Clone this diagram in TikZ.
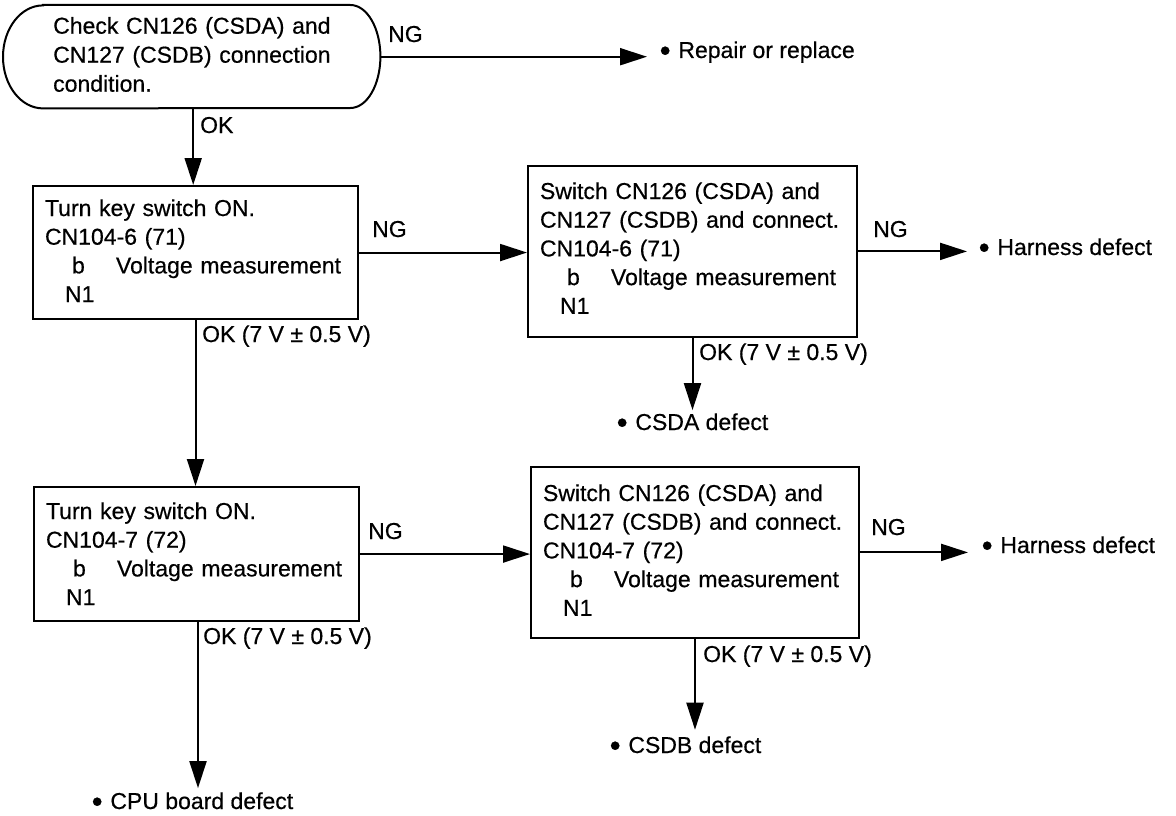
\documentclass[tikz,border=0pt]{standalone}
\usepackage{fontspec}
\setmainfont{Liberation Sans}[FakeBold=0.5]
\usetikzlibrary{arrows.meta}
\newcommand\measline{\hspace*{27pt}\makebox[44pt][l]{b}Voltage measurement}
\newcommand\nonerow[1]{\hspace*{20pt}N1\rule[-#1pt]{0pt}{#1pt}}
\newcommand\bul{\makebox[8pt][c]{\smash{\fontsize{31}{31}\selectfont\raisebox{-3pt}{•}}}\hspace{0.4em}}
\begin{document}
\begin{tikzpicture}[x=1pt,y=-1pt,
  every node/.style={font=\fontsize{23}{28.7}\selectfont},
  ln/.style={line width=2pt},
  arr/.style={ln,-{Triangle[length=27pt,width=17pt]}},
  box/.style={draw,line width=2pt,anchor=north west,align=left,inner xsep=12pt,inner ysep=0pt},
  lbl/.style={anchor=base west,inner sep=0pt},
  res/.style={anchor=base west,inner sep=0pt},
]
\useasboundingbox (0,0) rectangle (1176,816);

% start (stadium)
\node[anchor=north west,inner xsep=43.5pt,inner ysep=0pt,text width=290pt,align=left,
      font=\fontsize{23}{29}\selectfont] (chk) at (3,5)
  {\rule{0pt}{28.5pt}\hspace*{6.5pt}Check CN126 (CSDA) and\\\hspace*{6.5pt}CN127 (CSDB) connection\\\hspace*{6.5pt}condition.\rule[-16.5pt]{0pt}{16.5pt}};
\draw[ln] ([xshift=40pt]chk.north west) -- ([xshift=-30pt]chk.north east)
  arc[start angle=90,end angle=-90,x radius=30pt,y radius=51.5pt]
  -- ([xshift=40pt]chk.south west)
  arc[start angle=270,end angle=90,x radius=40pt,y radius=51.5pt] -- cycle;

% boxes
\node[box,text width=301pt] (b1) at (32,185)
  {\rule{0pt}{30pt}Turn key switch ON.\\CN104-6 (71)\\\measline\\\nonerow{17}};
\node[box,text width=305pt] (b2) at (527,165)
  {\rule{0pt}{33pt}Switch CN126 (CSDA) and\\CN127 (CSDB) and connect.\\CN104-6 (71)\\\measline\\\nonerow{23}};
\node[box,text width=301pt] (b3) at (33,486)
  {\rule{0pt}{32pt}Turn key switch ON.\\CN104-7 (72)\\\measline\\\nonerow{16}};
\node[box,text width=304pt] (b4) at (530,466)
  {\rule{0pt}{34pt}Switch CN126 (CSDA) and\\CN127 (CSDB) and connect.\\CN104-7 (72)\\\measline\\\nonerow{22}};

% results
\node[res,inner xsep=14pt] (rp) at (647,58) {\bul Repair or replace};
\node[res,inner xsep=13pt] (h1) at (967,255) {\bul Harness defect};
\node[res,inner xsep=15pt] (h2) at (968,553) {\bul Harness defect};
\node[res,inner ysep=3pt] (csda) at (618,430) {\bul CSDA defect};
\node[res,inner ysep=6.4pt] (csdb) at (611,753) {\bul CSDB defect};
\node[res,inner ysep=4pt] (cpu) at (93,809) {\bul CPU board defect};

% labels
\node[lbl] (ng0) at (388,42) {NG};
\node[lbl] (ok0) at (200,133) {OK};
\node[lbl] (ng1) at (372,237) {NG};
\node[lbl] (ng2) at (873,237) {NG};
\node[lbl] (ok1) at (202,342) {OK (7 V ± 0.5 V)};
\node[lbl] (ok2) at (699,360) {OK (7 V ± 0.5 V)};
\node[lbl] (ng3) at (368,539) {NG};
\node[lbl] (ng4) at (871,535) {NG};
\node[lbl] (ok3) at (203,644) {OK (7 V ± 0.5 V)};
\node[lbl] (ok4) at (703,662) {OK (7 V ± 0.5 V)};

% connectors
\draw[arr] (chk.east) -- (chk.east -| rp.west);
\draw[arr] ([xshift=1.5pt]chk.south) -- ([xshift=1.5pt]chk.south |- b1.north);
\draw[arr] (b1.east) -- (b1.east -| b2.west);
\draw[arr] (b2.east) -- (b2.east -| h1.west);
\draw[arr] (b2.south) -- (b2.south |- csda.north);
\draw[arr] (b1.south) -- (b1.south |- b3.north);
\draw[arr] (b3.east) -- (b3.east -| b4.west);
\draw[arr] ([xshift=1.5pt]b3.south) -- ([xshift=1.5pt]b3.south |- cpu.north);
\draw[arr] (b4.east) -- (b4.east -| h2.west);
\draw[arr] (b4.south) -- (b4.south |- csdb.north);
\end{tikzpicture}
\end{document}
